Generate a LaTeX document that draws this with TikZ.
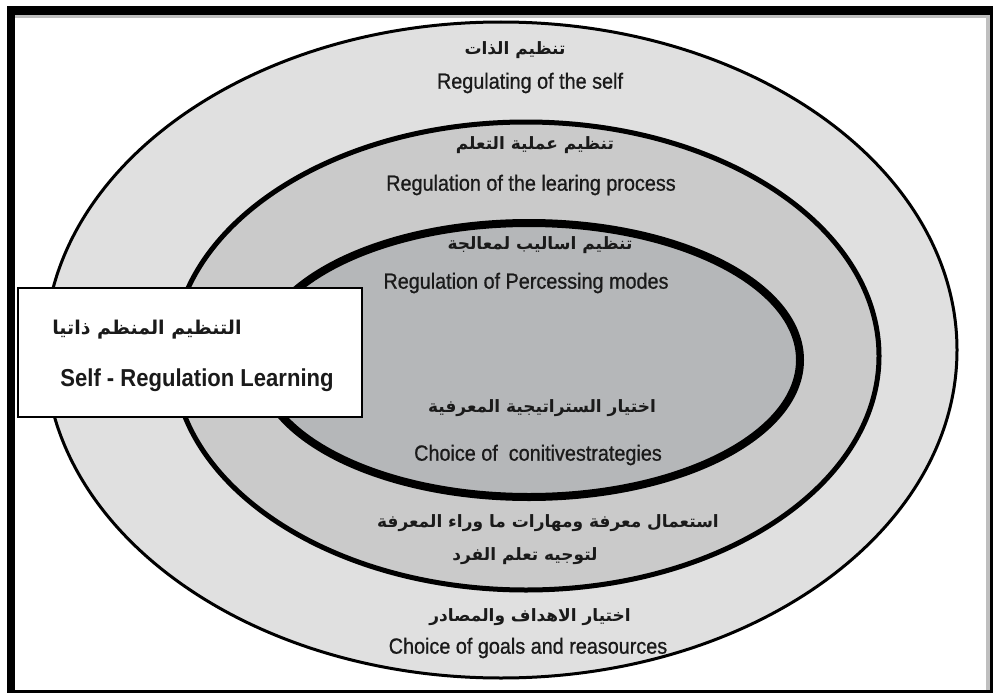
\documentclass[tikz,border=0pt]{standalone}
\usepackage{fontspec}
\usetikzlibrary{shapes.geometric}
\TeXXeTstate=1
\newfontfamily\arabicfont[Script=Arabic]{DejaVu Sans}
\newfontfamily\engfont[FakeStretch=0.9, FakeBold=0.8]{Liberation Sans}
\newfontfamily\engbold[FakeStretch=0.9]{Liberation Sans Bold}
\newcommand\artext[1]{{\arabicfont\bfseries\beginR #1\endR}}

\definecolor{bandouter}{RGB}{224,224,224}
\definecolor{bandmid}{RGB}{202,202,202}
\definecolor{bandinner}{RGB}{181,183,185}
\definecolor{inktext}{RGB}{26,26,26}

\tikzset{
  ring/.style={ellipse, draw=black, inner sep=0pt},
  entext/.style={font=\engfont\fontsize{22}{24}\selectfont, text=inktext, inner sep=0pt},
  artxt/.style={font=\fontsize{17}{20}\selectfont, text=inktext, inner sep=0pt},
}

\begin{document}
\begin{tikzpicture}[x=1pt, y=-1pt]
  % page and frame
  \useasboundingbox (0,0) rectangle (993,693);
  \fill[white] (0,0) rectangle (993,693);
  \fill[black] (7,6) rectangle (993,693);
  \fill[white] (15,15) rectangle (990,690);
  \fill[black!25] (15,15) rectangle (990,18);
  \fill[black!25] (986,15) rectangle (990,690);

  % nested regulation rings
  \node[ring, line width=3pt, fill=bandouter, minimum width=912pt, minimum height=656pt] (outer) at (501,350) {};
  \node[ring, line width=5pt, fill=bandmid, minimum width=706pt, minimum height=468pt] (middle) at (526,356) {};
  \node[ring, line width=8pt, fill=bandinner, minimum width=542pt, minimum height=274pt] (inner) at (529,360) {};

  % outer ring labels
  \node[artxt] (selfar) at (515,50) {\artext{تنظيم الذات}};
  \node[entext] (selfen) at (530,83) {Regulating of the self};
  \node[artxt] (goalsar) at (530,617) {\artext{اختيار الاهداف والمصادر}};
  \node[entext] (goalsen) at (528,648) {Choice of goals and reasources};

  % middle ring labels
  \node[artxt] (procar) at (535,145) {\artext{تنظيم عملية التعلم}};
  \node[entext] (procen) at (531,185) {Regulation of the learing process};
  \node[artxt] (metaar) at (548,523) {\artext{استعمال معرفة ومهارات ما وراء المعرفة}};
  \node[artxt] (metabr) at (525,556) {\artext{لتوجيه تعلم الفرد}};

  % inner ring labels
  \node[artxt] (modesar) at (540,245) {\artext{تنظيم اساليب لمعالجة}};
  \node[entext] (modesen) at (526,283) {Regulation of Percessing modes};
  \node[artxt] (stratar) at (542,408) {\artext{اختيار الستراتيجية المعرفية}};
  \node[entext] (straten) at (538,455) {Choice of\ \ conitivestrategies};

  % title box
  \node[draw=black, line width=2pt, fill=white, minimum width=344pt, minimum height=129pt, inner sep=0pt] (title) at (190,352.5) {};
  \node[artxt, font=\fontsize{19}{22}\selectfont] (titlear) at (147,330) {\artext{التنظيم المنظم ذاتيا}};
  \node[entext, font=\engbold\fontsize{24.5}{27}\selectfont] (titleen) at (197,380) {Self - Regulation Learning};
\end{tikzpicture}
\end{document}
